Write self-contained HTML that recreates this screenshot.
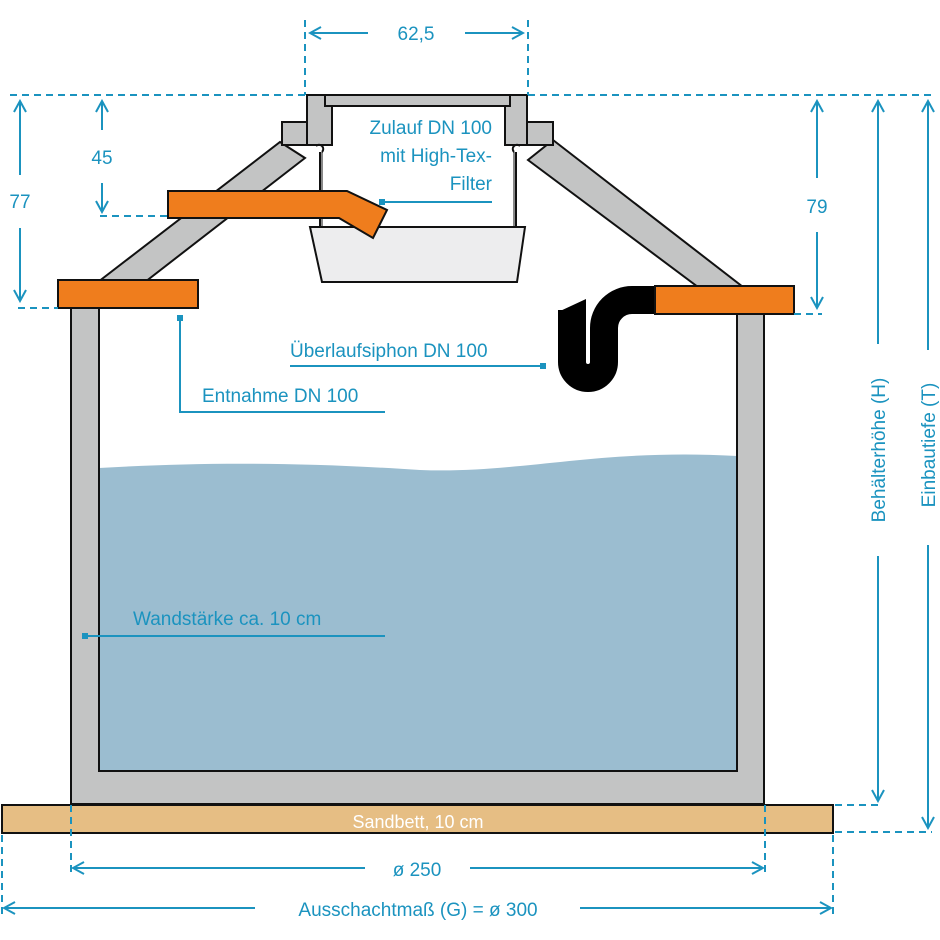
<!DOCTYPE html>
<html><head><meta charset="utf-8"><style>
html,body{margin:0;padding:0;background:#fff}
svg{display:block}
text{font-family:"Liberation Sans",sans-serif;fill:#1b93bf;font-size:19px}
</style></head><body>
<svg width="940" height="940" viewBox="0 0 940 940" xmlns="http://www.w3.org/2000/svg">
<defs>
<marker id="a" markerWidth="14" markerHeight="14" refX="12" refY="7" orient="auto-start-reverse" markerUnits="userSpaceOnUse">
<path d="M1,1 L12,7 L1,13" fill="none" stroke="#1b93bf" stroke-width="2"/></marker>
</defs>
<!-- water -->
<path d="M99,468 C200,462 300,462 420,470 C520,474 600,448 737,456 L737,771 L99,771 Z" fill="#9bbdd0"/>
<!-- tank walls -->
<path d="M71,308 L99,308 L99,771 L737,771 L737,314 L764,314 L764,804 L71,804 Z" fill="#c3c4c4" stroke="#111" stroke-width="2"/>
<!-- left slope -->
<path d="M98,282 L280,142 L305,158 L145,282 Z" fill="#c3c4c4" stroke="#111" stroke-width="2"/>
<!-- right slope -->
<path d="M553,140 L743,287 L698,287 L528,160 Z" fill="#c3c4c4" stroke="#111" stroke-width="2"/>
<!-- flanges -->
<rect x="282" y="122" width="50" height="23" fill="#c3c4c4" stroke="#111" stroke-width="2"/>
<rect x="505" y="122" width="48" height="23" fill="#c3c4c4" stroke="#111" stroke-width="2"/>
<!-- neck -->
<rect x="307" y="95" width="25" height="50" fill="#c3c4c4" stroke="#111" stroke-width="2"/>
<rect x="505" y="95" width="22" height="50" fill="#c3c4c4" stroke="#111" stroke-width="2"/>
<rect x="325" y="95" width="185" height="11" fill="#c3c4c4" stroke="#111" stroke-width="2"/>
<!-- hooks & rods -->
<path d="M316,146 a4,4 0 1 1 6,6 M320,152 L320,228" fill="none" stroke="#111" stroke-width="2"/>
<path d="M520,146 a4,4 0 1 0 -6,6 M516,152 L516,228" fill="none" stroke="#111" stroke-width="2"/>
<line x1="322" y1="152" x2="322" y2="228" stroke="#111" stroke-width="1"/>
<line x1="514" y1="152" x2="514" y2="228" stroke="#111" stroke-width="1"/>
<!-- basket -->
<path d="M310,227 L525,227 L517,282 L322,282 Z" fill="#ededee" stroke="#111" stroke-width="2"/>
<!-- inlet pipe -->
<path d="M168,191 L347,191 L387,210 L373,238 L339,218 L168,218 Z" fill="#ef7d1d" stroke="#111" stroke-width="2"/>
<!-- left pipe -->
<rect x="58" y="280" width="140" height="28" fill="#ef7d1d" stroke="#111" stroke-width="2"/>
<!-- siphon -->
<path d="M656,300 L632,300 A28,28 0 0 0 604,328 L604,362 A16,16 0 0 1 572,362 L572,310" fill="none" stroke="#000" stroke-width="28"/>
<polygon points="558,311 586,311 586,299 558,312" fill="#000"/>
<rect x="655" y="286" width="139" height="28" fill="#ef7d1d" stroke="#111" stroke-width="2"/>
<!-- sandbed -->
<rect x="2" y="805" width="831" height="28" fill="#e6be84" stroke="#111" stroke-width="2"/>
<text x="418" y="828" text-anchor="middle" style="fill:#fff;font-size:18px">Sandbett, 10 cm</text>

<g stroke="#1b93bf" stroke-width="2" fill="none">
<g stroke-dasharray="7,5">
<line x1="10" y1="95" x2="305" y2="95"/><line x1="528" y1="95" x2="932" y2="95"/>
<line x1="305" y1="20" x2="305" y2="95"/><line x1="528" y1="20" x2="528" y2="95"/>
<line x1="100" y1="216" x2="168" y2="216"/><line x1="18" y1="308" x2="58" y2="308"/>
<line x1="794" y1="314" x2="822" y2="314"/>
<line x1="835" y1="805" x2="882" y2="805"/><line x1="835" y1="832" x2="932" y2="832"/>
<line x1="71" y1="805" x2="71" y2="875"/><line x1="765" y1="805" x2="765" y2="875"/>
<line x1="2" y1="835" x2="2" y2="915"/><line x1="833" y1="835" x2="833" y2="915"/>
</g>
<line x1="310" y1="33" x2="368" y2="33" marker-start="url(#a)"/>
<line x1="465" y1="33" x2="523" y2="33" marker-end="url(#a)" />
<line x1="20" y1="101" x2="20" y2="175" marker-start="url(#a)"/>
<line x1="20" y1="228" x2="20" y2="301" marker-end="url(#a)"/>
<line x1="102" y1="101" x2="102" y2="130" marker-start="url(#a)"/>
<line x1="102" y1="183" x2="102" y2="212" marker-end="url(#a)"/>
<line x1="817" y1="101" x2="817" y2="178" marker-start="url(#a)"/>
<line x1="817" y1="232" x2="817" y2="308" marker-end="url(#a)"/>
<line x1="878" y1="101" x2="878" y2="344" marker-start="url(#a)"/>
<line x1="878" y1="556" x2="878" y2="801" marker-end="url(#a)"/>
<line x1="928" y1="101" x2="928" y2="350" marker-start="url(#a)"/>
<line x1="928" y1="545" x2="928" y2="828" marker-end="url(#a)"/>
<line x1="73" y1="868" x2="365" y2="868" marker-start="url(#a)"/>
<line x1="470" y1="868" x2="763" y2="868" marker-end="url(#a)"/>
<line x1="4" y1="908" x2="255" y2="908" marker-start="url(#a)"/>
<line x1="580" y1="908" x2="831" y2="908" marker-end="url(#a)"/>
<line x1="382" y1="202" x2="492" y2="202"/>
<line x1="290" y1="366" x2="543" y2="366"/>
<polyline points="180,318 180,412 385,412"/>
<line x1="85" y1="636" x2="385" y2="636"/>
</g>
<g fill="#1b93bf">
<rect x="379" y="199" width="6" height="6"/><rect x="540" y="363" width="6" height="6"/>
<rect x="177" y="315" width="6" height="6"/><rect x="82" y="633" width="6" height="6"/>
</g>
<text x="416" y="40" text-anchor="middle">62,5</text>
<text x="20" y="208" text-anchor="middle">77</text>
<text x="102" y="164" text-anchor="middle">45</text>
<text x="817" y="213" text-anchor="middle">79</text>
<text x="417" y="876" text-anchor="middle">ø 250</text>
<text x="418" y="916" text-anchor="middle">Ausschachtmaß (G) = ø 300</text>
<text x="492" y="134" text-anchor="end">Zulauf DN 100</text>
<text x="492" y="162" text-anchor="end">mit High-Tex-</text>
<text x="492" y="190" text-anchor="end">Filter</text>
<text x="290" y="357">Überlaufsiphon DN 100</text>
<text x="202" y="402">Entnahme DN 100</text>
<text x="133" y="625">Wandstärke ca. 10 cm</text>
<text transform="translate(885,450) rotate(-90)" text-anchor="middle">Behälterhöhe (H)</text>
<text transform="translate(935,445) rotate(-90)" text-anchor="middle">Einbautiefe (T)</text>
</svg>
</body></html>
